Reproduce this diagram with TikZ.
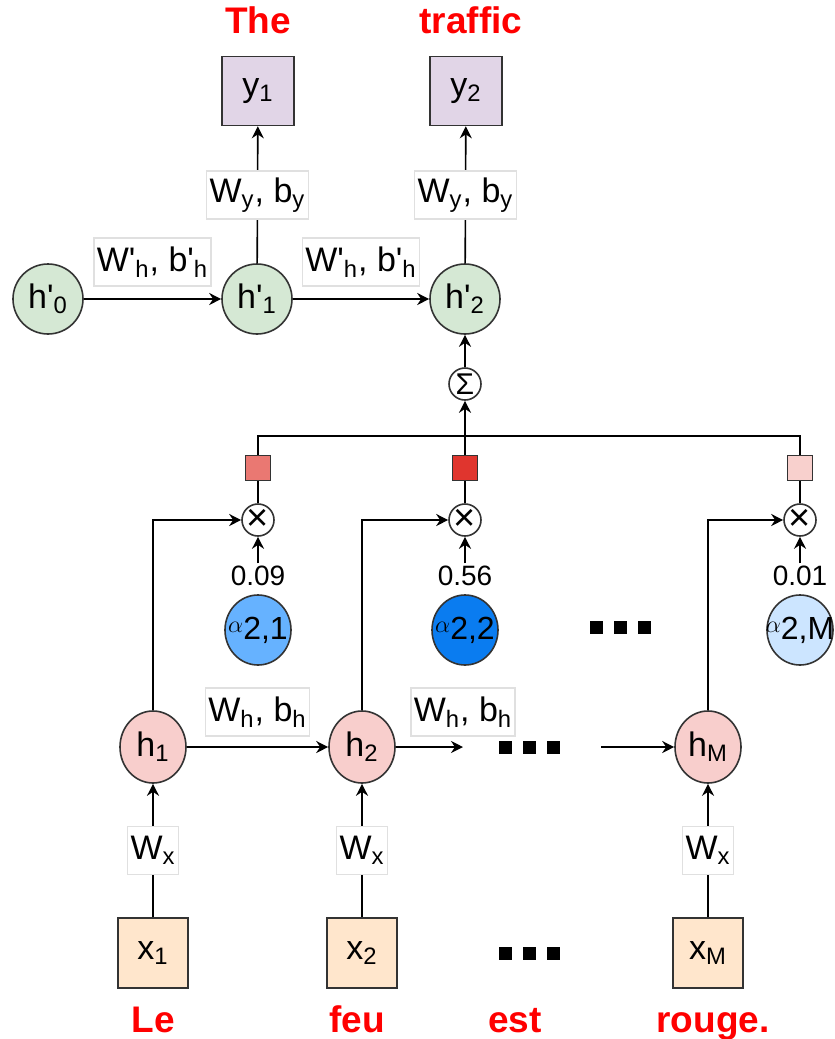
\documentclass[tikz,border=0pt]{standalone}
\usepackage{fontspec}
\setmainfont{Liberation Sans}[Ligatures=TeXOff]
\usepackage{tikz}
\usetikzlibrary{positioning, arrows.meta, shapes.geometric}

\definecolor{outpurple}{HTML}{E1D5E7}
\definecolor{decgreen}{HTML}{D5E8D4}
\definecolor{encpink}{HTML}{F8CECC}
\definecolor{inorange}{HTML}{FFE6CC}
\definecolor{wredA}{HTML}{EA7872}
\definecolor{wredB}{HTML}{E0352E}
\definecolor{wredM}{HTML}{F8D0CD}
\definecolor{ablueA}{HTML}{66B2FF}
\definecolor{ablueB}{HTML}{0A7CF0}
\definecolor{ablueM}{HTML}{CCE5FF}
\definecolor{edge}{HTML}{333333}
\newcommand{\sqdots}{\rule{6.5pt}{6.5pt}\hspace{5.5pt}\rule{6.5pt}{6.5pt}\hspace{5.5pt}\rule{6.5pt}{6.5pt}}
\newcommand{\att}[1]{\makebox[0pt]{\raisebox{3.5pt}{\fontsize{12}{12}\selectfont$\alpha$}#1}}

\begin{document}
\begin{tikzpicture}[x=0.5pt, y=-0.5pt, line width=0.8pt,
    word/.style={text=red, anchor=base, font=\fontsize{18.5}{20}\selectfont\bfseries},
    outbox/.style={draw=edge, fill=outpurple, minimum width=36pt, minimum height=34.5pt, font=\fontsize{17}{19}\selectfont},
    inbox/.style={draw=edge, fill=inorange, minimum size=35pt, font=\fontsize{17}{19}\selectfont},
    dec/.style={draw=edge, circle, fill=decgreen, minimum size=35pt, inner sep=0pt, font=\fontsize{17}{19}\selectfont},
    enc/.style={draw=edge, ellipse, fill=encpink, minimum width=33pt, minimum height=36pt, inner sep=0pt, font=\fontsize{17}{19}\selectfont},
    attn/.style={draw=edge, ellipse, minimum width=33pt, minimum height=35pt, inner sep=0pt, font=\fontsize{16}{18}\selectfont},
    op/.style={draw=edge, circle, fill=white, minimum size=16pt, inner sep=0pt},
    wsq/.style={draw=edge, minimum size=12.5pt, inner sep=0pt},
    lbl/.style={draw=black!12, fill=white, inner sep=1.5pt, minimum height=24pt, font=\fontsize{17}{19}\selectfont},
    num/.style={font=\fontsize{14}{16}\selectfont, inner sep=1pt},
    arr/.style={-{Stealth[length=6pt, width=6pt]}},
]
\useasboundingbox[fill=white] (0,0) rectangle (835,1039);

\node[word] (wThe) at (258,33) {The};
\node[word] (wTraffic) at (471,33) {traffic};
\node[outbox] (y1) at (258,91) {y\textsubscript{1}};
\node[outbox] (y2) at (466,91) {y\textsubscript{2}};

\node[dec] (hp0) at (48,299) {h'\textsubscript{0}};
\node[dec] (hp1) at (257,299) {h'\textsubscript{1}};
\node[dec] (hp2) at (465,299) {h'\textsubscript{2}};
\node[op, font=\fontsize{15}{16}\selectfont] (sum) at (465,384) {Σ};
\coordinate (bus) at (465,436);

\node[wsq, fill=wredA] (s1) at (258,468) {};
\node[wsq, fill=wredB] (s2) at (465,468) {};
\node[wsq, fill=wredM] (sM) at (800,468) {};
\node[op, font=\fontsize{19}{20}\selectfont] (m1) at (258,520) {×};
\node[op, font=\fontsize{19}{20}\selectfont] (m2) at (465,520) {×};
\node[op, font=\fontsize{19}{20}\selectfont] (mM) at (800,520) {×};
\node[num] (v1) at (258,576) {0.09};
\node[num] (v2) at (465,576) {0.56};
\node[num] (vM) at (800,576) {0.01};
\node[attn, fill=ablueA] (a1) at (258,630) {\att{2,1}};
\node[attn, fill=ablueB] (a2) at (465,630) {\att{2,2}};
\node[attn, fill=ablueM] (aM) at (800,630) {\att{2,M}};
\node (adots) at (620,627) {\sqdots};

\node[enc] (h1) at (153,747) {h\textsubscript{1}};
\node[enc] (h2) at (362,747) {h\textsubscript{2}};
\node[enc] (hM) at (708,747) {h\textsubscript{M}};
\node (hdots) at (529,747) {\sqdots};
\coordinate (hgapL) at (463,747);
\coordinate (hgapR) at (601,747);

\node[inbox] (x1) at (153,953) {x\textsubscript{1}};
\node[inbox] (x2) at (362,953) {x\textsubscript{2}};
\node[inbox] (xM) at (708,953) {x\textsubscript{M}};
\node (xdots) at (529,953) {\sqdots};
\node[word] (wLe) at (153,1032) {Le};
\node[word] (wFeu) at (357,1032) {feu};
\node[word] (wEst) at (515,1032) {est};
\node[word] (wRouge) at (713,1032) {rouge.};

\draw[arr] (hp1) -- node[lbl] {W\textsubscript{y}, b\textsubscript{y}} (y1);
\draw[arr] (hp2) -- node[lbl] {W\textsubscript{y}, b\textsubscript{y}} (y2);
\draw[arr] (hp0) -- node[lbl, above=6pt] {W'\textsubscript{h}, b'\textsubscript{h}} (hp1);
\draw[arr] (hp1) -- node[lbl, above=6pt] {W'\textsubscript{h}, b'\textsubscript{h}} (hp2);
\draw[arr] (sum) -- (hp2);
\draw[arr] (s2) -- (sum);
\draw (s1) -- (s1 |- bus) -- (sM |- bus) -- (sM);
\draw (m1) -- (s1);
\draw (m2) -- (s2);
\draw (mM) -- (sM);
\draw[arr] (v1) -- (m1);
\draw[arr] (v2) -- (m2);
\draw[arr] (vM) -- (mM);
\draw[arr] (h1) |- (m1);
\draw[arr] (h2) |- (m2);
\draw[arr] (hM) |- (mM);

\draw[arr] (h1) -- node[lbl, above=5pt] {W\textsubscript{h}, b\textsubscript{h}} (h2);
\draw[arr] (h2) -- node[lbl, above=5pt, pos=1] {W\textsubscript{h}, b\textsubscript{h}} (hgapL);
\draw[arr] (hgapR) -- (hM);
\draw[arr] (x1) -- node[lbl] {W\textsubscript{x}} (h1);
\draw[arr] (x2) -- node[lbl] {W\textsubscript{x}} (h2);
\draw[arr] (xM) -- node[lbl] {W\textsubscript{x}} (hM);
\end{tikzpicture}
\end{document}
